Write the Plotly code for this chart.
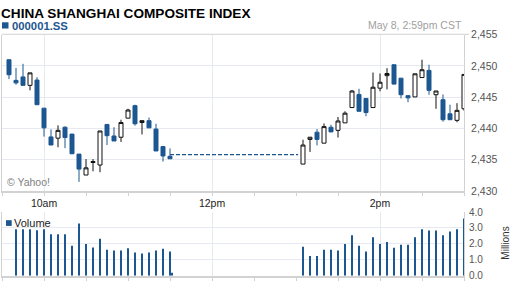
import plotly.graph_objects as go

DAY = "2013-05-08 "

# ---- data ----
am_times = ["09:35", "09:40", "09:45", "09:50", "09:55", "10:00", "10:05", "10:10",
            "10:15", "10:20", "10:25", "10:30", "10:35", "10:40", "10:45", "10:50",
            "10:55", "11:00", "11:05", "11:10", "11:15", "11:20", "11:25", "11:30"]
pm_times = ["13:05", "13:10", "13:15", "13:20", "13:25", "13:30", "13:35", "13:40",
            "13:45", "13:50", "13:55", "14:00", "14:05", "14:10", "14:15", "14:20",
            "14:25", "14:30", "14:35", "14:40", "14:45", "14:50", "14:55", "15:00"]

am_open = [2451.0, 2447.7, 2448.25, 2446.9, 2447.75, 2443.25, 2438.65, 2438.45,
           2440.2, 2439.1, 2435.9, 2432.55, 2434.55, 2434.15, 2440.65, 2438.8,
           2438.6, 2441.65, 2443.65, 2440.95, 2441.25, 2439.9, 2437.1, 2435.55]
am_high = [2451.0, 2449.7, 2450.35, 2448.9, 2448.2, 2443.25, 2439.85, 2440.5,
           2440.35, 2439.1, 2435.9, 2435.1, 2435.1, 2439.6, 2440.65, 2440.2,
           2441.4, 2443.15, 2443.8, 2441.25, 2441.75, 2440.75, 2437.1, 2436.8]
am_low = [2447.9, 2447.0, 2446.85, 2446.1, 2443.8, 2438.7, 2437.35, 2437.0,
          2436.85, 2435.95, 2431.45, 2432.55, 2433.15, 2433.0, 2437.35, 2438.0,
          2437.85, 2441.65, 2440.45, 2439.05, 2440.1, 2436.4, 2434.7, 2435.15]
am_close = [2448.6, 2447.3, 2446.9, 2448.9, 2443.8, 2440.1, 2437.35, 2439.7,
            2438.55, 2435.95, 2433.5, 2433.7, 2434.7, 2439.6, 2438.85, 2438.0,
            2440.95, 2442.95, 2440.75, 2441.25, 2440.1, 2436.4, 2435.6, 2435.15]

pm_open = [2434.3, 2438.25, 2439.4, 2437.65, 2440.2, 2439.7, 2440.9, 2443.35,
           2445.45, 2444.8, 2443.35, 2446.45, 2448.45, 2450.2, 2448.05, 2445.25,
           2445.05, 2448.15, 2449.3, 2445.4, 2444.6, 2442.35, 2441.3, 2443.15]
pm_high = [2438.2, 2438.6, 2439.9, 2440.8, 2440.6, 2441.85, 2442.75, 2446.15,
           2446.35, 2444.8, 2448.95, 2448.8, 2449.65, 2450.2, 2448.05, 2445.25,
           2448.75, 2451.0, 2450.2, 2446.0, 2445.45, 2443.8, 2444.05, 2448.65]
pm_low = [2434.3, 2436.25, 2437.3, 2437.65, 2439.45, 2438.55, 2440.9, 2443.35,
          2442.75, 2441.95, 2443.35, 2445.95, 2446.25, 2447.1, 2444.8, 2444.2,
          2445.05, 2448.15, 2445.4, 2443.15, 2441.1, 2441.4, 2441.0, 2442.85]
pm_close = [2437.35, 2438.6, 2438.25, 2440.3, 2439.45, 2441.2, 2442.45, 2446.0,
            2442.75, 2442.55, 2446.6, 2447.4, 2448.8, 2447.1, 2445.4, 2444.9,
            2448.75, 2449.4, 2446.1, 2446.0, 2441.4, 2441.4, 2442.9, 2448.65]

lunch_start = "11:30"
lunch_end = "13:01:30"
lunch_level = 2435.8

vol_times = am_times[1:] + ["11:31:30"] + pm_times
volume = [2.92, 2.92, 2.92, 2.86, 2.92, 2.60, 2.60, 2.60, 1.88, 3.28, 2.00, 1.78,
          2.32, 1.64, 1.58, 1.58, 1.72, 1.46, 1.40, 1.46, 1.58, 1.70, 1.52,
          0.19,
          1.82, 1.24, 1.24, 1.64, 1.64, 1.58, 2.00, 2.54, 1.88, 1.52, 2.42, 2.00,
          2.12, 1.76, 1.94, 1.94, 2.42, 2.92, 2.84, 2.84, 2.54, 2.78, 2.92, 3.59]

x_tick_times = ["10:00", "12:00", "14:00"]
x_tick_text = ["10am", "12pm", "2pm"]
price_ticks = [2430, 2435, 2440, 2445, 2450, 2455]
vol_ticks = [0, 1, 2, 3, 4]

# ---- style ----
BLUE = "#1d5791"
GRID = "#e6e9ef"
FRAME = "#d2d2d2"
W, H = 512, 288
FONT = "Liberation Sans, Arial, sans-serif"


def px(x):
    return x / W


def py(y):
    return 1 - y / H


cx = [DAY + t for t in am_times + pm_times]

fig = go.Figure()
fig.add_trace(go.Candlestick(
    x=cx,
    open=am_open + pm_open, high=am_high + pm_high,
    low=am_low + pm_low, close=am_close + pm_close,
    increasing=dict(line=dict(color="#111111", width=1), fillcolor="white"),
    decreasing=dict(line=dict(color=BLUE, width=1), fillcolor=BLUE),
    whiskerwidth=0, hoverinfo="skip", showlegend=False,
    xaxis="x", yaxis="y"))
fig.add_trace(go.Scatter(
    x=[DAY + lunch_start, DAY + lunch_end], y=[lunch_level, lunch_level],
    mode="lines", line=dict(color=BLUE, width=1.3, dash="4px,2px"),
    hoverinfo="skip", showlegend=False, xaxis="x", yaxis="y"))
fig.add_trace(go.Bar(
    x=[DAY + t for t in vol_times], y=volume, width=50000,
    marker=dict(color=BLUE, line=dict(width=0)),
    hoverinfo="skip", showlegend=False, xaxis="x2", yaxis="y2"))

xdom = [px(2), px(464)]
minor = dict(tickmode="linear", tick0=DAY + "09:30", dtick=1800000,
             ticks="outside", ticklen=3, tickcolor=FRAME, showgrid=False)
common_x = dict(
    domain=xdom, type="date", range=[DAY + "09:30", DAY + "15:00"],
    tickmode="array", tickvals=[DAY + t for t in x_tick_times], ticktext=x_tick_text,
    ticks="outside", ticklen=3, tickcolor=FRAME,
    showgrid=True, gridcolor=GRID, gridwidth=1,
    showline=True, linecolor=FRAME, linewidth=2,
    minor=minor, fixedrange=True, zeroline=False)

fig.update_layout(
    width=W, height=H, margin=dict(l=0, r=0, t=0, b=0),
    paper_bgcolor="white", plot_bgcolor="white",
    font=dict(family=FONT, size=11, color="#222"),
    showlegend=False, boxgap=0.43, boxgroupgap=0,
    xaxis=dict(**common_x, anchor="y", rangeslider=dict(visible=False),
               showticklabels=True, tickfont=dict(size=10.5, color="#222"),
               ticklabelstandoff=-2),
    yaxis=dict(domain=[py(193), py(30)], range=[2430, 2455], side="right",
               anchor="x", tickvals=price_ticks, tickformat=",",
               showgrid=True, gridcolor=GRID, showline=True, linecolor=FRAME,
               linewidth=1, mirror=True, ticks="", zeroline=False,
               tickfont=dict(size=10.5, color="#555"), ticklabelstandoff=4,
               fixedrange=True),
    xaxis2=dict(**common_x, anchor="y2", matches="x", showticklabels=False),
    yaxis2=dict(domain=[py(281.5), py(215)], range=[0, 4], side="right",
                anchor="x2", tickvals=vol_ticks, tickformat=".1f",
                showgrid=True, gridcolor=GRID, showline=True, linecolor=FRAME,
                linewidth=1, mirror=True, ticks="", zeroline=False,
                tickfont=dict(size=10, color="#555"), ticklabelstandoff=2,
                fixedrange=True),
)

shapes = [
    dict(type="line", xref="paper", yref="paper", x0=px(2), x1=px(469),
         y0=py(29.5), y1=py(29.5), line=dict(color=FRAME, width=1)),
    dict(type="rect", xref="paper", yref="paper", x0=px(2), x1=px(8.5),
         y0=py(23.5), y1=py(17), fillcolor=BLUE, line=dict(width=0)),
    dict(type="rect", xref="paper", yref="paper", x0=px(6), x1=px(11.7),
         y0=py(229.5), y1=py(223.5), fillcolor=BLUE, line=dict(width=0)),
]
fig.update_layout(shapes=shapes)

annos = [
    dict(text="CHINA SHANGHAI COMPOSITE INDEX", x=px(0), y=py(7.6),
         font=dict(size=13.6, color="#000", weight="bold")),
    dict(text="000001.SS", x=px(10.5), y=py(20.6),
         font=dict(size=11.3, color=BLUE, weight="bold")),
    dict(text="© Yahoo!", x=px(5.5), y=py(183.7),
         font=dict(size=10.5, color="#808080")),
    dict(text="Volume", x=px(12.5), y=py(226.8),
         font=dict(size=11, color="#222")),
]
for a in annos:
    fig.add_annotation(xref="paper", yref="paper", xanchor="left", yanchor="middle",
                       showarrow=False, borderpad=0, **a)
fig.add_annotation(text="May 8, 2:59pm CST", xref="paper", yref="paper",
                   x=px(462.5), y=py(20.3), xanchor="right", yanchor="middle",
                   showarrow=False, borderpad=0, font=dict(size=10.5, color="#a0a0a0"))
fig.add_annotation(text="Millions", xref="paper", yref="paper",
                   x=px(506), y=py(248), xanchor="center", yanchor="middle",
                   textangle=-90, showarrow=False, font=dict(size=10, color="#333"))

fig.write_html("out.html")
